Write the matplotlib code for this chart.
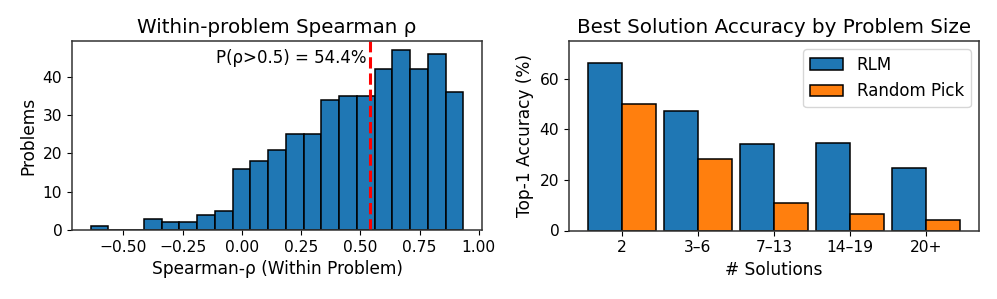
import numpy as np
import matplotlib
matplotlib.use("Agg")
import matplotlib.pyplot as plt

# Left: histogram of within-problem Spearman rho
bin_start = -0.638
bin_width = 0.0749
hist_counts = [1, 0, 0, 3, 2, 2, 4, 5, 16, 18, 21, 25, 25, 34, 35, 35, 42, 47, 42, 46, 36]
median_rho = 0.542
p_text = "P(ρ>0.5) = 54.4%"

# Right: grouped bars
categories = ["2", "3–6", "7–13", "14–19", "20+"]
rlm_acc = [66.2, 47.2, 34.2, 34.5, 24.8]
random_acc = [50.1, 28.3, 10.9, 6.7, 4.1]

plt.rcParams['font.family'] = ['DejaVu Sans']
plt.rcParams['axes.linewidth'] = 1.1
plt.rcParams['axes.edgecolor'] = '#333333'
fig = plt.figure(figsize=(9.97, 2.99), dpi=100)
W, H = 997, 299
ax1 = fig.add_axes([72/W, 1-230/H, (482-72)/W, (230-41)/H])
ax2 = fig.add_axes([569/W, 1-230.5/H, (979-569)/W, (230.5-41)/H])

edges = bin_start + bin_width*np.arange(len(hist_counts)+1)
centers = (edges[:-1] + edges[1:]) / 2
ax1.hist(centers, bins=edges, weights=hist_counts, color='#1f77b4', edgecolor='black', linewidth=1.1)
ax1.axvline(median_rho, color='red', linestyle='--', linewidth=2.2)
ax1.text(median_rho - 0.015, 44.8, p_text, ha='right', va='center', fontsize=12)
ax1.set_title("Within-problem Spearman ρ", fontsize=14.3)
ax1.set_xlabel("Spearman-ρ (Within Problem)", fontsize=12.25)
ax1.set_ylabel("Problems", fontsize=12.25)
ax1.tick_params(labelsize=11.2)

x = np.arange(len(categories))
w = 0.45
ax2.bar(x - w/2, rlm_acc, w, label="RLM", color='#1f77b4', edgecolor='black', linewidth=1.1)
ax2.bar(x + w/2, random_acc, w, label="Random Pick", color='#ff7f0e', edgecolor='black', linewidth=1.1)
ax2.set_xticks(x)
ax2.set_xticklabels(categories)
ax2.set_ylim(0, 75)
ax2.set_title("Best Solution Accuracy by Problem Size", fontsize=14.3)
ax2.set_xlabel("# Solutions", fontsize=12.25)
ax2.set_ylabel("Top-1 Accuracy (%)", fontsize=12.25)
ax2.tick_params(labelsize=11.2)
ax2.legend(loc='upper right', fontsize=12)

fig.savefig("out.png", dpi=100)
